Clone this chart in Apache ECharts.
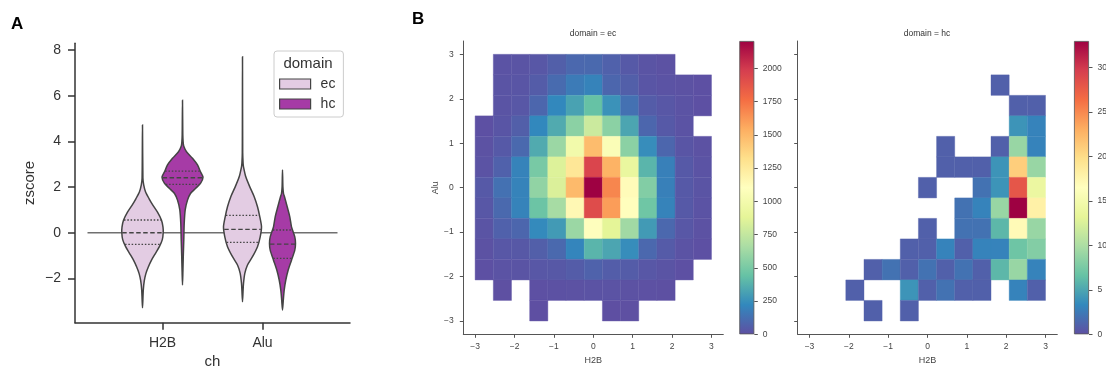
<!DOCTYPE html>
<html>
<head>
<meta charset="utf-8">
<script src="https://cdn.jsdelivr.net/npm/echarts@6/dist/echarts.min.js"></script>
<style>
  html, body { margin: 0; padding: 0; background: #fff; }
  #chart { width: 1106px; height: 370px; }
</style>
</head>
<body>
<div id="chart"></div>
<script>
// ---- panel A: violins ----
const categories = ['H2B', 'Alu'];
const zTicks = [-2, 0, 2, 4, 6, 8];

// profile = y levels (top -> bottom) and half widths (x units)
const ecH2B_y = [4.72, 2.4, 2.1, 1.8, 1.5, 1.2, 0.9, 0.55, 0.25, 0.0, -0.3, -0.6, -0.9, -1.2, -1.5, -1.8, -2.1, -2.5, -2.9, -3.28];
const ecH2B_w = [0, 0.004, 0.012, 0.03, 0.065, 0.105, 0.15, 0.19, 0.205, 0.207, 0.198, 0.17, 0.13, 0.09, 0.058, 0.033, 0.018, 0.008, 0.004, 0];
const ecH2B_q = [0.56, 0.0, -0.51];

const hcH2B_y = [5.81, 4.3, 4.0, 3.8, 3.55, 3.26, 2.97, 2.67, 2.43, 2.16, 1.94, 1.72, 1.43, 1.0, 0.4, -0.3, -1.0, -1.7, -2.29];
const hcH2B_w = [0, 0.003, 0.006, 0.012, 0.04, 0.1, 0.15, 0.18, 0.205, 0.18, 0.13, 0.08, 0.05, 0.027, 0.017, 0.013, 0.008, 0.004, 0];
const hcH2B_q = [2.70, 2.41, 2.12];

const ecAlu_y = [7.71, 3.5, 3.04, 2.89, 2.45, 2.01, 1.58, 1.14, 0.70, 0.26, -0.18, -0.61, -1.05, -1.41, -1.78, -2.22, -2.6, -3.02];
const ecAlu_w = [0, 0.002, 0.006, 0.01, 0.033, 0.073, 0.117, 0.15, 0.173, 0.19, 0.177, 0.15, 0.1, 0.05, 0.023, 0.01, 0.005, 0];
const ecAlu_q = [0.76, 0.15, -0.42];

const hcAlu_y = [2.75, 2.0, 1.72, 1.58, 1.14, 0.70, 0.26, -0.18, -0.47, -0.76, -1.2, -1.63, -2.07, -2.51, -2.95, -3.39];
const hcAlu_w = [0, 0.004, 0.01, 0.02, 0.047, 0.073, 0.09, 0.123, 0.13, 0.123, 0.09, 0.057, 0.033, 0.017, 0.008, 0];
const hcAlu_q = [0.12, -0.5, -1.12];

const refLineX = [-0.75, 1.75];
const refLineY = 0;

// ---- panel B: 2d histograms ----
const binEdges = [-3, -2.538, -2.077, -1.615, -1.154, -0.692, -0.231, 0.231, 0.692, 1.154, 1.615, 2.077, 2.538, 3];
const hTicks = [-3, -2, -1, 0, 1, 2, 3];

// rows from top (Alu high) to bottom, columns from H2B low to high
const ecCounts = [
  [0, 15, 20, 30, 60, 95, 100, 70, 40, 20, 10, 0, 0],
  [0, 20, 25, 50, 110, 170, 200, 90, 60, 25, 15, 10, 5],
  [0, 20, 30, 90, 220, 320, 440, 260, 130, 50, 30, 15, 5],
  [5, 25, 60, 220, 350, 560, 780, 560, 330, 90, 40, 15, 0],
  [10, 40, 100, 350, 610, 990, 1480, 1060, 560, 240, 90, 25, 10],
  [15, 70, 200, 500, 850, 1270, 1950, 1520, 920, 390, 190, 40, 15],
  [40, 130, 200, 580, 840, 1490, 2205, 1680, 1130, 530, 190, 40, 20],
  [30, 100, 200, 460, 650, 1150, 1920, 1600, 1110, 470, 200, 40, 15],
  [20, 70, 90, 230, 290, 610, 1090, 880, 630, 290, 95, 30, 10],
  [10, 30, 35, 60, 100, 210, 390, 330, 240, 95, 45, 15, 5],
  [5, 15, 20, 30, 35, 50, 75, 55, 50, 30, 20, 5, 0],
  [0, 2, 0, 5, 8, 12, 15, 14, 10, 6, 3, 0, 0],
  [0, 0, 0, 1, 0, 0, 0, 1, 2, 0, 0, 0, 0]
];
const hcCounts = [
  [0, 0, 0, 0, 0, 0, 0, 0, 0, 0, 0, 0, 0],
  [0, 0, 0, 0, 0, 0, 0, 0, 0, 0, 1, 0, 0],
  [0, 0, 0, 0, 0, 0, 0, 0, 0, 0, 0, 1, 1],
  [0, 0, 0, 0, 0, 0, 0, 0, 0, 0, 0, 4, 3],
  [0, 0, 0, 0, 0, 0, 0, 1, 0, 0, 1, 9, 3],
  [0, 0, 0, 0, 0, 0, 0, 1, 1, 1, 4, 21, 9],
  [0, 0, 0, 0, 0, 0, 1, 0, 0, 2, 4, 28, 14],
  [0, 0, 0, 0, 0, 0, 0, 0, 2, 3, 9, 33, 18],
  [0, 0, 0, 0, 0, 0, 1, 0, 2, 2, 6, 17, 9],
  [0, 0, 0, 0, 0, 1, 1, 3, 1, 3, 3, 7, 8],
  [0, 0, 0, 1, 2, 1, 2, 1, 2, 1, 6, 9, 3],
  [0, 0, 1, 0, 0, 4, 1, 2, 1, 1, 0, 3, 1],
  [0, 0, 0, 1, 0, 1, 0, 0, 0, 0, 0, 0, 0]
];
const ecMax = 2205;
const hcMax = 33;
const ecBarTicks = [0, 250, 500, 750, 1000, 1250, 1500, 1750, 2000];
const hcBarTicks = [0, 5, 10, 15, 20, 25, 30];

const spectralR = ['#5e4fa2', '#3288bd', '#66c2a5', '#abdda4', '#e6f598', '#ffffbf',
                   '#fee08b', '#fdae61', '#f46d43', '#d53e4f', '#9e0142'];
const ecFill = '#e3cce3';
const hcFill = '#a63ba6';
const font = 'Liberation Sans, Arial, sans-serif';

const minus = v => String(v).replace('-', '\u2212');

const interp = (ys, ws, y) => {
  for (let i = 0; i < ys.length - 1; i++) {
    if (y <= ys[i] && y >= ys[i + 1]) {
      const t = (ys[i] - y) / (ys[i] - ys[i + 1]);
      return ws[i] + t * (ws[i + 1] - ws[i]);
    }
  }
  return 0;
};

const violinItem = (profiles, offset) => (params, api) => {
  const [ys, ws, qs] = profiles[params.dataIndex];
  const cx = api.value(0) + offset;
  const right = ys.map((y, i) => api.coord([cx + ws[i], y]));
  const left = ys.slice(1, -1).map((y, i) => api.coord([cx - ws[i + 1], y])).reverse();
  const children = [{
    type: 'polygon',
    shape: { points: right.concat(left), smooth: 0.25 },
    style: { fill: api.visual('color'), stroke: '#444', lineWidth: 1.5 }
  }];
  qs.forEach((q, k) => {
    const hw = interp(ys, ws, q) - 0.004;
    const a = api.coord([cx - hw, q]);
    const b = api.coord([cx + hw, q]);
    children.push({
      type: 'line',
      shape: { x1: a[0], y1: a[1], x2: b[0], y2: b[1] },
      style: { stroke: '#444', lineWidth: 1.3, lineDash: k === 1 ? [4.5, 2.5] : [1.5, 1.8] }
    });
  });
  return { type: 'group', children };
};

const cellData = counts => {
  const out = [];
  counts.forEach((row, r) => {
    const yi = counts.length - 1 - r;
    row.forEach((v, c) => {
      if (v > 0) out.push([binEdges[c], binEdges[c + 1], binEdges[yi], binEdges[yi + 1], v]);
    });
  });
  return out;
};

const cellItem = (params, api) => {
  const p0 = api.coord([api.value(0), api.value(3)]);
  const p1 = api.coord([api.value(1), api.value(2)]);
  const col = api.visual('color');
  return {
    type: 'rect',
    shape: { x: p0[0], y: p0[1], width: p1[0] - p0[0], height: p1[1] - p0[1] },
    style: { fill: col, stroke: col, lineWidth: 0.4 }
  };
};

const heatX = (gridIndex) => ({
  type: 'value', gridIndex, min: -3.3, max: 3.3,
  name: 'H2B', nameLocation: 'middle', nameGap: 19,
  nameTextStyle: { fontSize: 9, color: '#444', fontFamily: font },
  axisLine: { onZero: false, lineStyle: { color: '#555', width: 1 } },
  axisTick: { show: true, length: 3.5, lineStyle: { color: '#555' }, customValues: hTicks },
  axisLabel: { customValues: hTicks, formatter: minus, fontSize: 8.5, color: '#444', margin: 8, fontFamily: font },
  splitLine: { show: false }
});
const heatY = (gridIndex, showLabels) => ({
  type: 'value', gridIndex, min: -3.3, max: 3.3,
  name: showLabels ? 'Alu' : '', nameLocation: 'middle', nameGap: 23,
  nameTextStyle: { fontSize: 9, color: '#444', fontFamily: font },
  axisLine: { show: true, onZero: false, lineStyle: { color: '#555', width: 1 } },
  axisTick: { show: true, length: 3.5, lineStyle: { color: '#555' }, customValues: hTicks },
  axisLabel: { show: showLabels, customValues: hTicks, formatter: minus, fontSize: 8.5, color: '#444', margin: 9.5, fontFamily: font },
  splitLine: { show: false }
});
const barX = gridIndex => ({ type: 'category', gridIndex, data: [''], show: false, boundaryGap: true });
const barY = (gridIndex, max, ticks) => ({
  type: 'value', gridIndex, min: 0, max, position: 'right',
  axisLine: { show: false },
  axisTick: { show: true, length: 3.5, lineStyle: { color: '#555' }, customValues: ticks },
  axisLabel: { customValues: ticks, formatter: v => String(v), fontSize: 8.5, color: '#444', margin: 8.5, fontFamily: font },
  splitLine: { show: false }
});
const gradient = () => new echarts.graphic.LinearGradient(0, 1, 0, 0,
  spectralR.map((c, i) => ({ offset: i / (spectralR.length - 1), color: c })));

const chart = echarts.init(document.getElementById('chart'), null, { renderer: 'canvas' });

const option = {
  animation: false,
  backgroundColor: '#fff',
  textStyle: { fontFamily: font },
  title: [
    { text: 'A', left: 11, top: 16, padding: 0, textStyle: { fontSize: 17, fontWeight: 'bold', color: '#000', fontFamily: font } },
    { text: 'B', left: 412, top: 11, padding: 0, textStyle: { fontSize: 17, fontWeight: 'bold', color: '#000', fontFamily: font } },
    { text: 'domain', left: 308, top: 56, padding: 0, textAlign: 'center', textStyle: { fontSize: 15, fontWeight: 'normal', color: '#333', fontFamily: font } },
    { text: 'domain = ec', left: 593, top: 29, padding: 0, textAlign: 'center', textStyle: { fontSize: 8.5, fontWeight: 'normal', color: '#333', fontFamily: font } },
    { text: 'domain = hc', left: 927, top: 29, padding: 0, textAlign: 'center', textStyle: { fontSize: 8.5, fontWeight: 'normal', color: '#333', fontFamily: font } }
  ],
  legend: {
    data: [{ name: 'ec', icon: 'rect' }, { name: 'hc', icon: 'rect' }],
    orient: 'vertical', left: 274, top: 51,
    padding: [26, 8, 6, 5],
    itemWidth: 31, itemHeight: 10, itemGap: 6,
    borderColor: '#cccccc', borderWidth: 1, borderRadius: 3,
    backgroundColor: 'rgba(255,255,255,0.8)',
    selectedMode: false,
    itemStyle: { borderColor: '#444', borderWidth: 1.2 },
    textStyle: { fontSize: 14, color: '#333', padding: [0, 0, 0, 5], fontFamily: font }
  },
  grid: [
    { left: 75, top: 43.3, width: 275, height: 279.4, containLabel: false, outerBoundsMode: 'none' },
    { left: 463.3, top: 41, width: 260, height: 293.3, containLabel: false, outerBoundsMode: 'none' },
    { left: 797.7, top: 41, width: 259.6, height: 293.3, containLabel: false, outerBoundsMode: 'none' },
    { left: 739.3, top: 41, width: 15, height: 293.3, containLabel: false, outerBoundsMode: 'none' },
    { left: 1074, top: 41, width: 15, height: 293.3, containLabel: false, outerBoundsMode: 'none' }
  ],
  xAxis: [
    {
      type: 'value', gridIndex: 0, min: -0.875, max: 1.875,
      name: 'ch', nameLocation: 'middle', nameGap: 29,
      nameTextStyle: { fontSize: 15, color: '#333', fontFamily: font },
      axisLine: { onZero: false, lineStyle: { color: '#333', width: 1.5 } },
      axisTick: { show: true, length: 7, lineStyle: { color: '#333', width: 1.5 }, customValues: [0, 1] },
      axisLabel: { customValues: [0, 1], formatter: v => categories[Math.round(v)], fontSize: 14, color: '#333', margin: 13, fontFamily: font },
      splitLine: { show: false }
    },
    heatX(1), heatX(2), barX(3), barX(4)
  ],
  yAxis: [
    {
      type: 'value', gridIndex: 0, min: -3.94, max: 8.3,
      name: 'zscore', nameLocation: 'middle', nameGap: 38,
      nameTextStyle: { fontSize: 15, color: '#333', fontFamily: font },
      axisLine: { show: true, onZero: false, lineStyle: { color: '#333', width: 1.5 } },
      axisTick: { show: true, length: 7, lineStyle: { color: '#333', width: 1.5 }, customValues: zTicks },
      axisLabel: { customValues: zTicks, formatter: minus, fontSize: 14, color: '#333', margin: 14, fontFamily: font },
      splitLine: { show: false }
    },
    heatY(1, true), heatY(2, false), barY(3, ecMax, ecBarTicks), barY(4, hcMax, hcBarTicks)
  ],
  visualMap: [
    { show: false, type: 'continuous', seriesIndex: 3, dimension: 4, min: 0, max: ecMax, inRange: { color: spectralR } },
    { show: false, type: 'continuous', seriesIndex: 4, dimension: 4, min: 0, max: hcMax, inRange: { color: spectralR } }
  ],
  series: [
    {
      type: 'line', xAxisIndex: 0, yAxisIndex: 0, z: 1, silent: true,
      data: refLineX.map(x => [x, refLineY]),
      symbol: 'none', lineStyle: { color: '#707070', width: 1.5 }
    },
    {
      name: 'ec', type: 'custom', xAxisIndex: 0, yAxisIndex: 0, z: 3,
      itemStyle: { color: ecFill },
      renderItem: violinItem([[ecH2B_y, ecH2B_w, ecH2B_q], [ecAlu_y, ecAlu_w, ecAlu_q]], -0.2),
      data: [[0, ecH2B_q[1]], [1, ecAlu_q[1]]]
    },
    {
      name: 'hc', type: 'custom', xAxisIndex: 0, yAxisIndex: 0, z: 3,
      itemStyle: { color: hcFill },
      renderItem: violinItem([[hcH2B_y, hcH2B_w, hcH2B_q], [hcAlu_y, hcAlu_w, hcAlu_q]], 0.2),
      data: [[0, hcH2B_q[1]], [1, hcAlu_q[1]]]
    },
    {
      type: 'custom', xAxisIndex: 1, yAxisIndex: 1,
      renderItem: cellItem, encode: { x: [0, 1], y: [2, 3] },
      data: cellData(ecCounts)
    },
    {
      type: 'custom', xAxisIndex: 2, yAxisIndex: 2,
      renderItem: cellItem, encode: { x: [0, 1], y: [2, 3] },
      data: cellData(hcCounts)
    },
    {
      type: 'bar', xAxisIndex: 3, yAxisIndex: 3, barWidth: '100%', silent: true,
      data: [ecMax],
      itemStyle: { color: gradient(), borderColor: '#555', borderWidth: 0.8 }
    },
    {
      type: 'bar', xAxisIndex: 4, yAxisIndex: 4, barWidth: '100%', silent: true,
      data: [hcMax],
      itemStyle: { color: gradient(), borderColor: '#555', borderWidth: 0.8 }
    }
  ]
};

chart.setOption(option);
</script>
</body>
</html>
